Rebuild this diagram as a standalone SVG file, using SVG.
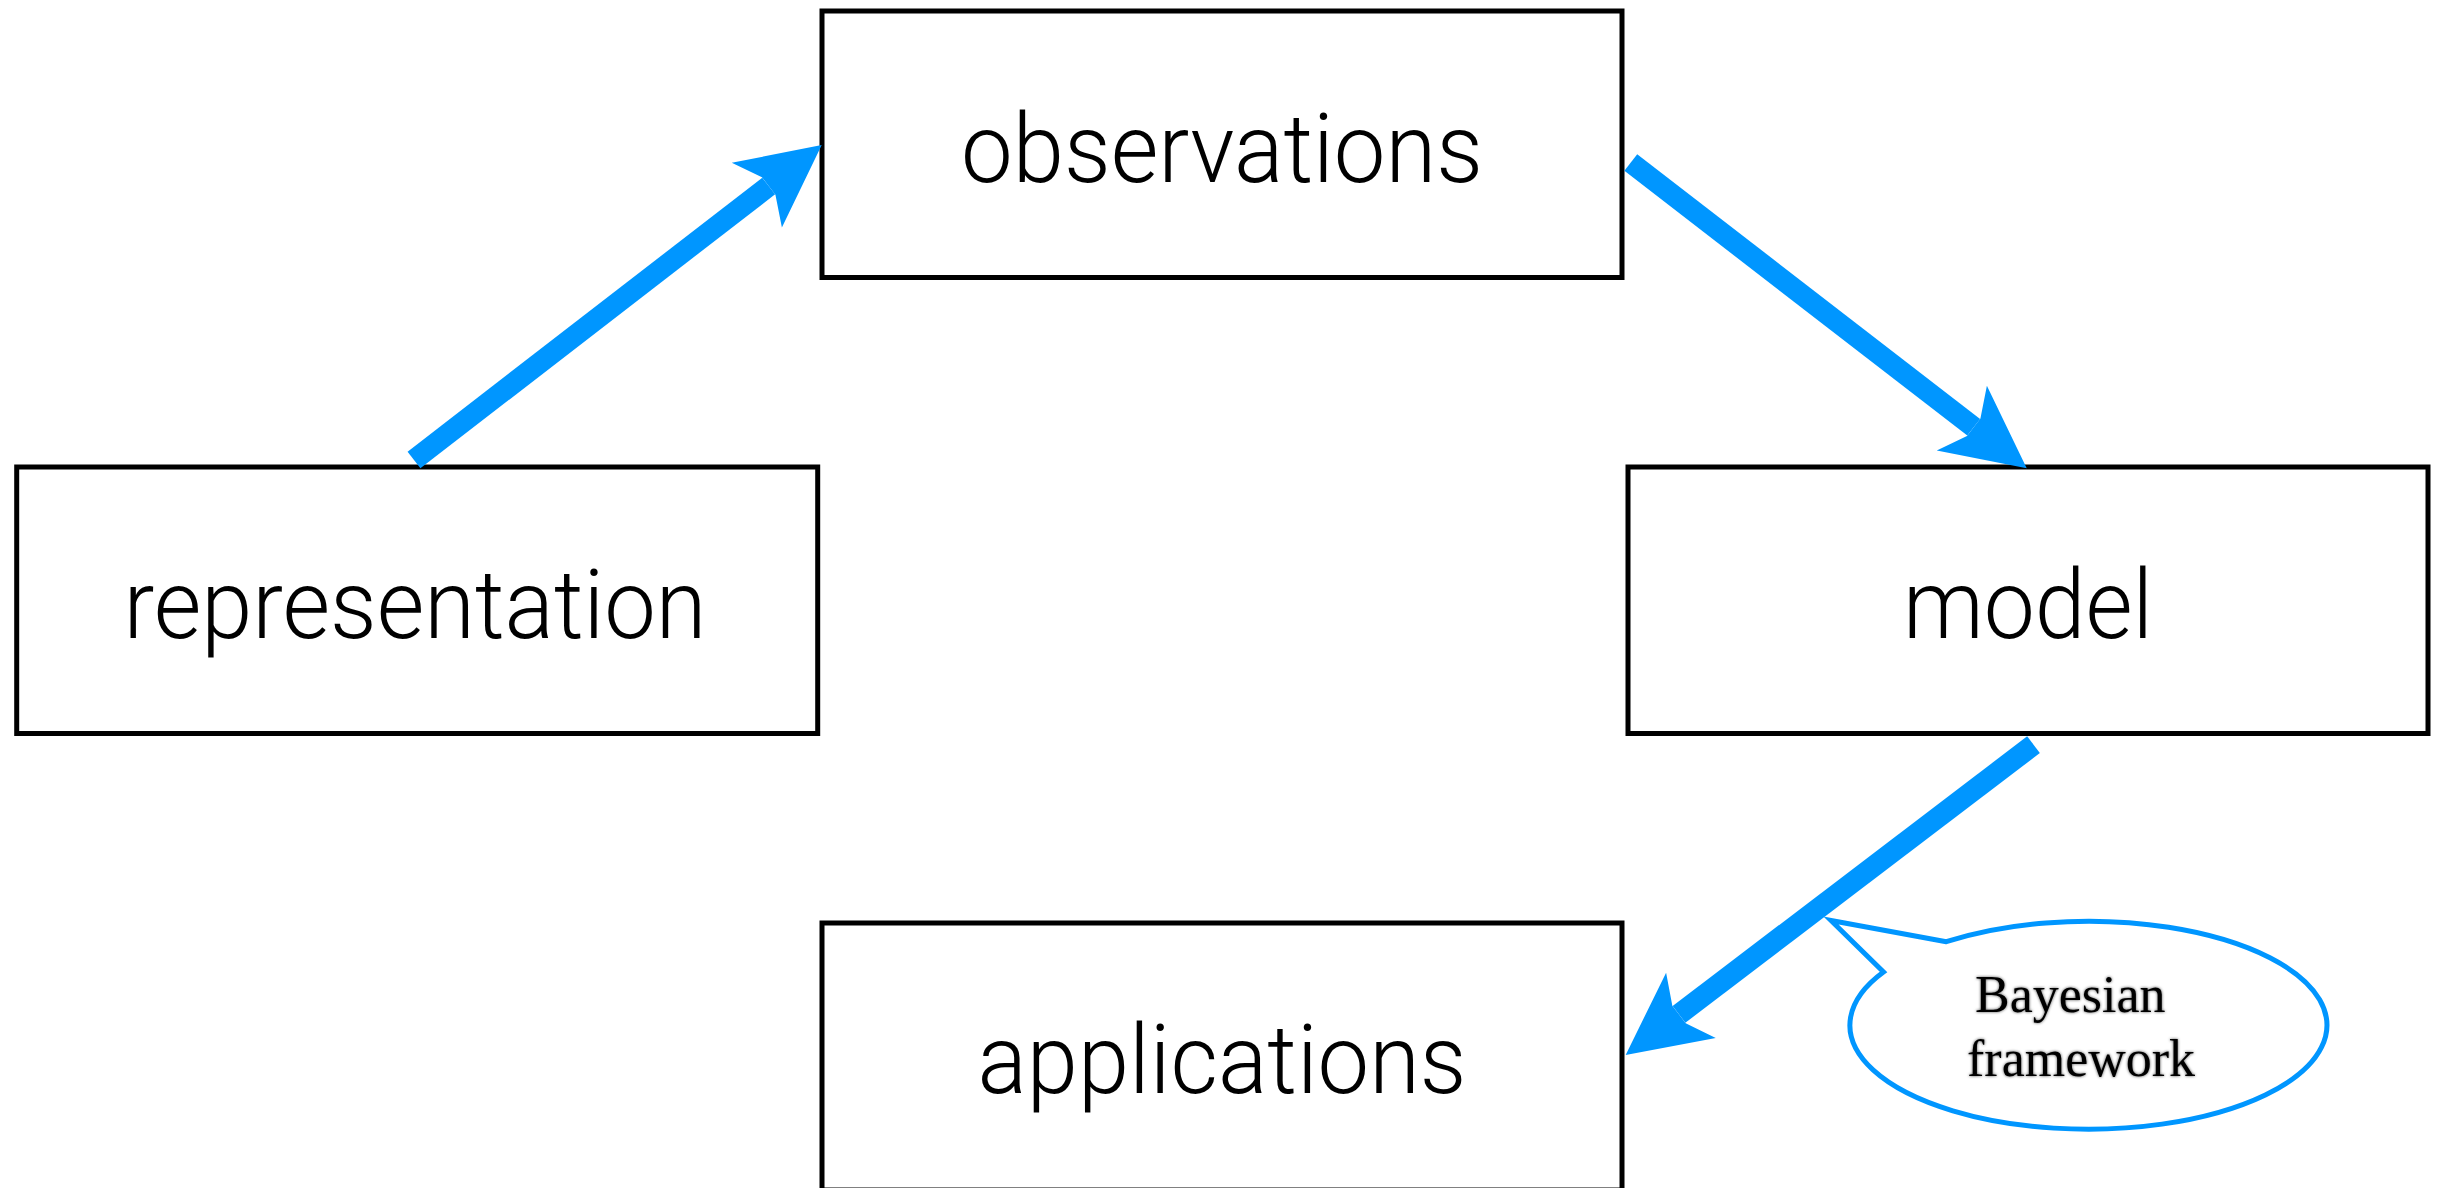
<svg xmlns="http://www.w3.org/2000/svg" width="2438" height="1188" viewBox="0 0 2438 1188">
  <style>
    .box { fill: #ffffff; stroke: #000000; stroke-width: 5; }
    .label { font-family: Roboto, "Liberation Sans", Arial, sans-serif; font-weight: 300; font-size: 97px; fill: #000000; text-anchor: middle; }
    .conn { stroke: #0096ff; stroke-width: 21; fill: none; stroke-linecap: butt; }
    .bubble { fill: #ffffff; stroke: #0096ff; stroke-width: 5; stroke-linejoin: miter; }
    .note { font-family: "Liberation Serif", "Times New Roman", serif; font-size: 52px; fill: #000000; }
  </style>
  <defs>
    <marker id="head" markerUnits="userSpaceOnUse" markerWidth="200" markerHeight="200" refX="0" refY="0" orient="auto" overflow="visible">
      <path d="M67,0 L-15,-41 L0,-11 L0,11 L-15,41 Z" fill="#0096ff"/>
    </marker>
    <filter id="soft" x="-10%" y="-20%" width="120%" height="140%">
      <feGaussianBlur in="SourceAlpha" stdDeviation="1.8" result="b"/>
      <feFlood flood-color="#000000" flood-opacity="0.7"/>
      <feComposite in2="b" operator="in" result="s"/>
      <feMerge><feMergeNode in="s"/><feMergeNode in="SourceGraphic"/></feMerge>
    </filter>
  </defs>
  <rect x="0" y="0" width="2438" height="1188" fill="#ffffff"/>

  <g id="observations">
    <rect class="box" x="822" y="11" width="800" height="266.5"/>
    <text class="label" x="1222" y="182" textLength="522" lengthAdjust="spacingAndGlyphs">observations</text>
  </g>
  <g id="representation">
    <rect class="box" x="16.7" y="467" width="801" height="266.5"/>
    <text class="label" x="415" y="638" textLength="583" lengthAdjust="spacingAndGlyphs">representation</text>
  </g>
  <g id="model">
    <rect class="box" x="1628" y="467" width="800" height="266.5"/>
    <text class="label" x="2028" y="638" textLength="250" lengthAdjust="spacingAndGlyphs">model</text>
  </g>
  <g id="applications">
    <rect class="box" x="822" y="923" width="800" height="267"/>
    <text class="label" x="1222" y="1093" textLength="489" lengthAdjust="spacingAndGlyphs">applications</text>
  </g>

  <g id="connectors">
    <line class="conn" x1="414" y1="460" x2="768.7" y2="186" marker-end="url(#head)"/>
    <line class="conn" x1="1630.8" y1="162.5" x2="1973.7" y2="427.3" marker-end="url(#head)"/>
    <line class="conn" x1="2033.5" y1="744.7" x2="1679" y2="1014.4" marker-end="url(#head)"/>
  </g>

  <g id="bayesian-callout">
    <path class="bubble" d="M1946.3,941.7 L1831,920.5 L1883.5,972 A238.5,104 0 1 0 1946.3,941.7 Z"/>
    <text class="note" filter="url(#soft)" x="1975" y="1012">Bayesian</text>
    <text class="note" filter="url(#soft)" x="1967" y="1076">framework</text>
  </g>
</svg>
